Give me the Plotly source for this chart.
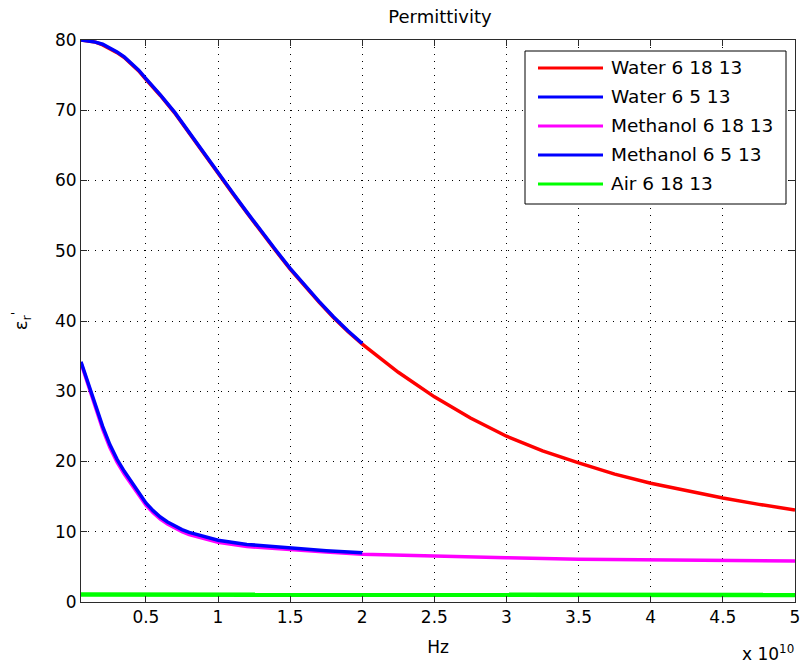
import plotly.graph_objects as go

# Frequency in units of 1e10 Hz, relative permittivity (real part)
water_61813_f = [0.05, 0.1, 0.15, 0.2, 0.25, 0.3, 0.35, 0.4, 0.45, 0.5, 0.55, 0.6, 0.7, 0.8,
                 0.9, 1.0, 1.1, 1.2, 1.3, 1.4, 1.5, 1.6, 1.7, 1.8, 1.9, 2.0, 2.25, 2.5, 2.75,
                 3.0, 3.25, 3.5, 3.75, 4.0, 4.25, 4.5, 4.75, 5.0]
water_61813_e = [80.0, 79.9, 79.7, 79.3, 78.8, 78.2, 77.5, 76.6, 75.6, 74.4, 73.3, 72.1, 69.6,
                 66.7, 63.8, 61.0, 58.2, 55.4, 52.6, 50.0, 47.4, 45.0, 42.7, 40.5, 38.5, 36.7,
                 32.7, 29.2, 26.2, 23.6, 21.5, 19.8, 18.2, 16.9, 15.8, 14.8, 13.9, 13.1]

water_6513_f = [0.05, 0.1, 0.15, 0.2, 0.25, 0.3, 0.35, 0.4, 0.45, 0.5, 0.55, 0.6, 0.7, 0.8,
                0.9, 1.0, 1.1, 1.2, 1.3, 1.4, 1.5, 1.6, 1.7, 1.8, 1.9, 2.0]
water_6513_e = [80.0, 79.9, 79.7, 79.4, 78.9, 78.3, 77.6, 76.7, 75.7, 74.5, 73.4, 72.2, 69.7,
                66.8, 63.9, 61.1, 58.3, 55.5, 52.7, 50.1, 47.5, 45.1, 42.8, 40.6, 38.6, 36.8]

methanol_61813_f = [0.05, 0.1, 0.15, 0.2, 0.25, 0.3, 0.35, 0.4, 0.45, 0.5, 0.55, 0.6, 0.65,
                    0.7, 0.75, 0.8, 0.9, 1.0, 1.2, 1.5, 1.75, 2.0, 2.5, 3.0, 3.5, 4.0, 4.5, 5.0]
methanol_61813_e = [34.0, 30.8, 27.6, 24.6, 22.0, 19.9, 18.2, 16.7, 15.2, 13.8, 12.7, 11.8,
                    11.1, 10.5, 10.0, 9.6, 9.0, 8.5, 7.9, 7.4, 7.1, 6.8, 6.5, 6.3, 6.1, 6.0,
                    5.9, 5.85]

methanol_6513_f = [0.05, 0.1, 0.15, 0.2, 0.25, 0.3, 0.35, 0.4, 0.45, 0.5, 0.55, 0.6, 0.65,
                   0.7, 0.75, 0.8, 0.9, 1.0, 1.2, 1.5, 1.75, 2.0]
methanol_6513_e = [34.2, 31.1, 28.0, 25.0, 22.4, 20.3, 18.6, 17.1, 15.5, 14.1, 13.0, 12.1,
                   11.4, 10.8, 10.3, 9.9, 9.3, 8.8, 8.2, 7.7, 7.3, 7.0]

air_61813_f = [0.05, 1.0, 2.0, 3.0, 4.0, 4.6, 5.0]
air_61813_e = [1.05, 1.05, 1.05, 1.05, 1.05, 1.0, 1.0]

series = [
    ("Water 6 18 13", water_61813_f, water_61813_e, "#ff0000", 3.5),
    ("Water 6 5 13", water_6513_f, water_6513_e, "#0000ff", 3.5),
    ("Methanol 6 18 13", methanol_61813_f, methanol_61813_e, "#ff00ff", 3.5),
    ("Methanol 6 5 13", methanol_6513_f, methanol_6513_e, "#0000ff", 3.5),
    ("Air 6 18 13", air_61813_f, air_61813_e, "#00ff00", 4.5),
]

x_ticks = [0.5, 1, 1.5, 2, 2.5, 3, 3.5, 4, 4.5, 5]
x_tick_text = ["0.5", "1", "1.5", "2", "2.5", "3", "3.5", "4", "4.5", "5"]
y_ticks = [0, 10, 20, 30, 40, 50, 60, 70, 80]

W, H = 804, 669
ML, MR, MT, MB = 81, 9, 40, 67
FONT = "DejaVu Sans"
AX = "#2b2b2b"


def fx(p):
    return (p - ML) / (W - ML - MR)


def fy(p):
    return (H - MB - p) / (H - MT - MB)


fig = go.Figure()
for name, f, e, color, width in series:
    fig.add_trace(go.Scatter(x=f, y=e, mode="lines", name=name,
                             line=dict(color=color, width=width), showlegend=False))

axis_common = dict(
    showline=True, linecolor=AX, linewidth=1, mirror="ticks",
    ticks="inside", ticklen=6, tickcolor=AX, tickwidth=1,
    showgrid=True, gridcolor="#000000", gridwidth=1, griddash="1px,6px",
    zeroline=False, tickfont=dict(family=FONT, size=17, color="#000"),
)

fig.update_xaxes(range=[0.05, 5], tickvals=x_ticks, ticktext=x_tick_text,
                 title=dict(text="Hz", font=dict(family=FONT, size=17, color="#000"), standoff=14),
                 **axis_common)
fig.update_yaxes(range=[0, 80], tickvals=y_ticks,
                 title=dict(text="ε<sub>r</sub><sup>'</sup>", font=dict(family=FONT, size=18, color="#000"),
                            standoff=22),
                 **axis_common)

# Legend drawn as a boxed key in the upper right of the axes
shapes = [dict(type="rect", xref="paper", yref="paper",
               x0=fx(525), x1=fx(786), y0=fy(204), y1=fy(51),
               line=dict(color="#000", width=1), fillcolor="#ffffff", layer="above")]
annotations = []
for i, (name, f, e, color, width) in enumerate(series):
    yy = fy(68 + 29 * i)
    shapes.append(dict(type="line", xref="paper", yref="paper",
                       x0=fx(538), x1=fx(603), y0=yy, y1=yy,
                       line=dict(color=color, width=3), layer="above"))
    annotations.append(dict(xref="paper", yref="paper", x=fx(609), y=yy,
                            xanchor="left", yanchor="middle", showarrow=False,
                            text=name, font=dict(family=FONT, size=18.5, color="#000")))

annotations.append(dict(xref="paper", yref="paper", x=fx(796), y=fy(653),
                        xanchor="right", yanchor="middle", showarrow=False,
                        text="x 10<sup>10</sup>", font=dict(family=FONT, size=17, color="#000")))

fig.update_layout(
    width=W, height=H,
    margin=dict(l=ML, r=MR, t=MT, b=MB, autoexpand=False),
    paper_bgcolor="#ffffff", plot_bgcolor="#ffffff",
    title=dict(text="Permittivity", x=fx(440), xref="paper", xanchor="center",
               y=1 - 17 / H, yref="container", yanchor="middle",
               font=dict(family=FONT, size=18, color="#000")),
    shapes=shapes, annotations=annotations, showlegend=False,
)

fig.write_html("out.html")
